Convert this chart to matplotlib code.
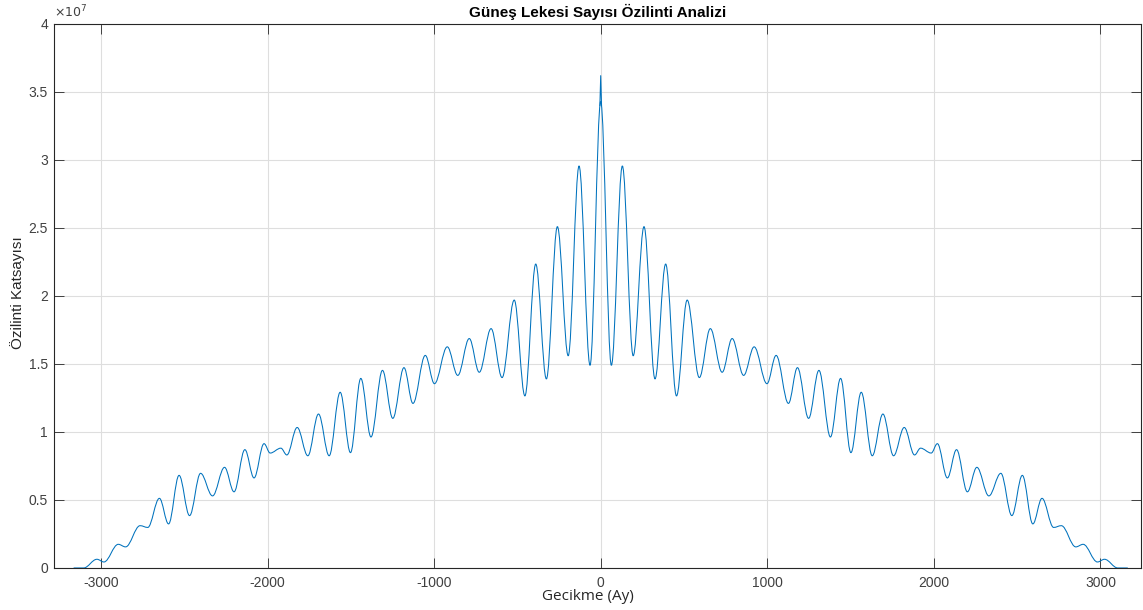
import numpy as np
import matplotlib
matplotlib.use("Agg")
import matplotlib.pyplot as plt
from matplotlib.path import Path
from matplotlib.patches import PathPatch

# Peaks and troughs of the autocorrelation for lag >= 0 (months, value / 1e7)
# the function is symmetric so the negative side is a mirror
pos_lag = [0, 64, 130, 195, 260, 326, 390, 455, 519, 592, 658, 729, 789, 858,
           921, 998, 1053, 1127, 1181, 1248, 1310, 1379, 1440, 1502, 1564,
           1630, 1694, 1758, 1822, 1884, 1920, 1984, 2021, 2081, 2136, 2201,
           2258, 2330, 2402, 2468, 2531, 2594, 2649, 2719, 2765, 2852, 2896,
           2982, 3024, 3104, 3164]
pos_val = [3.43, 1.49, 2.956, 1.56, 2.51, 1.39, 2.235, 1.265, 1.97, 1.40,
           1.76, 1.439, 1.687, 1.416, 1.626, 1.355, 1.563, 1.21, 1.473, 1.10,
           1.453, 0.963, 1.394, 0.848, 1.292, 0.825, 1.132, 0.825, 1.033,
           0.831, 0.881, 0.845, 0.914, 0.662, 0.870, 0.560, 0.740, 0.530,
           0.696, 0.385, 0.681, 0.324, 0.512, 0.298, 0.311, 0.155, 0.174,
           0.044, 0.064, 0.0, 0.0]

# narrow spike at zero lag
spike_lag = [-5, 0, 5]
spike_val = [3.40, 3.62, 3.40]

xticks = [-3000, -2000, -1000, 0, 1000, 2000, 3000]
yticks = [0, 0.5, 1, 1.5, 2, 2.5, 3, 3.5, 4]

lags = np.concatenate([-np.array(pos_lag[::-1]), np.array(pos_lag[1:])])
vals = np.concatenate([np.array(pos_val[::-1]), np.array(pos_val[1:])])

plt.rcParams['axes.unicode_minus'] = False
plt.rcParams['font.family'] = ['Liberation Sans', 'DejaVu Sans']

fig = plt.figure(figsize=(11.43, 6.10), dpi=100)
ax = fig.add_axes([0.0475, 0.0689, 0.951, 0.8918])

# smooth curve through the extrema (horizontal tangent at each one)
c = 0.3642
verts = [(lags[0], vals[0])]
codes = [Path.MOVETO]
for i in range(1, len(lags)):
    x0, y0 = lags[i - 1], vals[i - 1]
    x1, y1 = lags[i], vals[i]
    dx = x1 - x0
    verts += [(x0 + c * dx, y0), (x1 - c * dx, y1), (x1, y1)]
    codes += [Path.CURVE4] * 3
line_col = '#0072BD'
ax.add_patch(PathPatch(Path(verts, codes), fill=False, edgecolor=line_col,
                       lw=0.75, zorder=3))
ax.plot(spike_lag, spike_val, color=line_col, lw=0.75, zorder=3)

ax.set_xlim(-3280, 3245)
ax.set_ylim(0, 4)
ax.set_xticks(xticks)
ax.set_yticks(yticks)
ax.set_yticklabels(['%g' % v for v in yticks])

dark = '#262626'
ax.grid(True, color='#dedede', lw=0.8)
ax.set_axisbelow(True)
for s in ax.spines.values():
    s.set_color(dark)
    s.set_linewidth(0.8)
ax.tick_params(direction='in', length=7, width=0.6, colors=dark,
               labelcolor='#404040', labelsize=10, top=True, right=True)
ax.tick_params(axis='x', pad=6)
ax.tick_params(axis='y', pad=4.5)

ax.text(0.0, 1.006, r'$\times10^{7}$', transform=ax.transAxes,
        fontsize=9, color='#404040', va='bottom', ha='left')

ax.set_title('Güneş Lekesi Sayısı Özilinti Analizi', fontsize=11,
             fontweight='bold', pad=5)
ax.set_xlabel('Gecikme (Ay)', fontsize=11, color=dark,
              family=['Open Sans', 'DejaVu Sans'])
ax.xaxis.set_label_coords(0.491, -0.039)
ax.set_ylabel('Özilinti Katsayısı', fontsize=11, color=dark)
ax.yaxis.set_label_coords(-0.027, 0.507)

fig.savefig('out.png', dpi=100)
plt.close('all')
